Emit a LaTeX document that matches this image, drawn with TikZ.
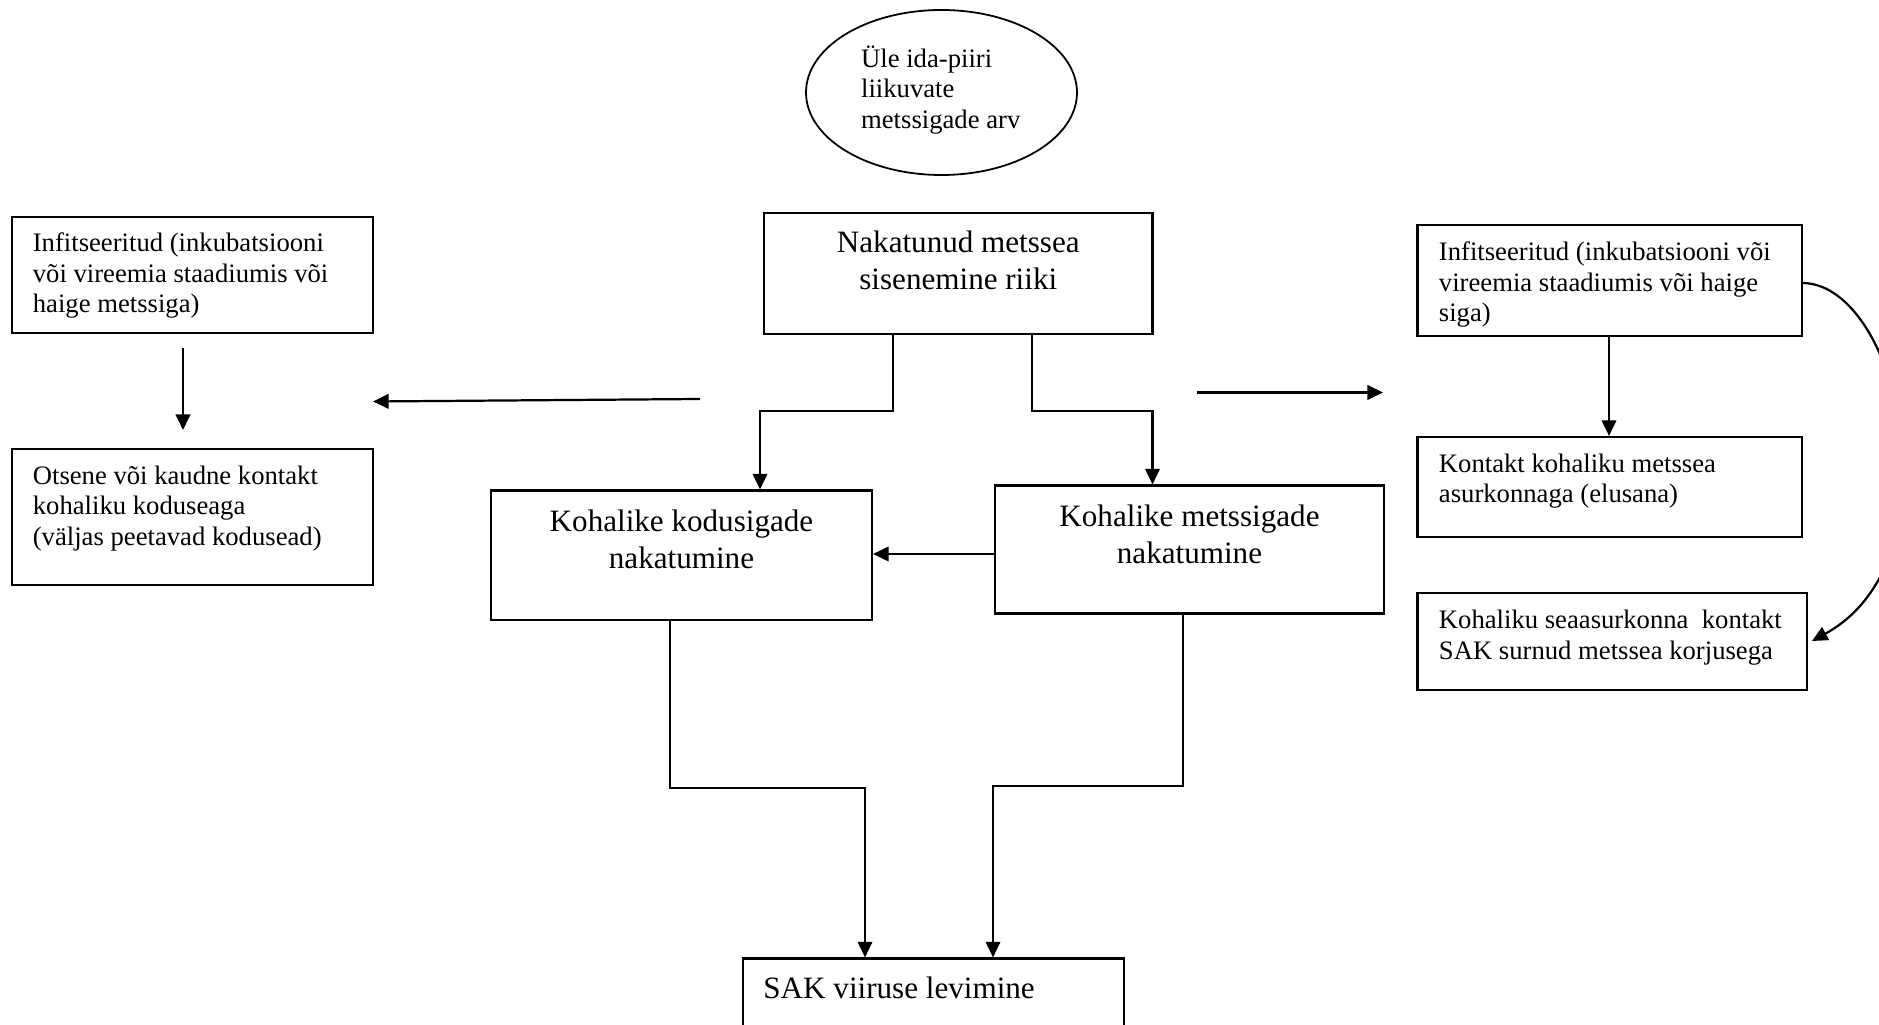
\documentclass[tikz,border=0pt]{standalone}
\usepackage{fontspec}
\setmainfont{Liberation Serif}
\usetikzlibrary{arrows.meta,shapes.geometric,fit}
\newcommand\tsm{\rule{0pt}{11.5pt}}
\newcommand\tbg{\rule{0pt}{13pt}}
\begin{document}
\begin{tikzpicture}[x=0.45pt,y=-0.45pt,
  box/.style={draw,line width=0.95pt,rectangle,inner sep=0pt},
  txt/.style={inner sep=0pt,align=left,anchor=north west,font=\fontsize{12}{13.7}\selectfont},
  bigc/.style={inner sep=0pt,align=center,anchor=north,font=\fontsize{14}{16.6}\selectfont},
  bigl/.style={inner sep=0pt,align=left,anchor=north west,font=\fontsize{14}{16.6}\selectfont},
  arr/.style={line width=1pt,-{Triangle[length=7pt,width=6.5pt]}}]
\fill[white] (0,0) rectangle (1879,1025);
\useasboundingbox (0,0) rectangle (1879,1025);
\begin{scope}
\clip (0,0) rectangle (1879,1025);
% ellipse
\node[draw,ellipse,line width=0.8pt,minimum width=271*0.45pt,minimum height=165*0.45pt,inner sep=0pt] (ell) at (941.5,92.5) {};
\node[txt] (ellt) at (860.7,41.5) {\tsm Üle ida-piiri\\liikuvate\\metssigade arv};
% boxes
\node[box,fit={(12,217) (373,333)}] (lb1) {};
\node[txt] (lb1t) at (32.4,225.9) {\tsm Infitseeritud (inkubatsiooni\\või vireemia staadiumis või\\haige metssiga)};
\node[box,fit={(12,449) (373,585)}] (lb2) {};
\node[txt] (lb2t) at (32.4,458.4) {\tsm Otsene või kaudne kontakt\\kohaliku koduseaga\\(väljas peetavad kodusead)};
\node[box,fit={(764,213) (1152.5,334)}] (cb) {};
\node[bigc] (cbt) at (958.3,223.5) {\tbg Nakatunud metssea\\sisenemine riiki};
\node[box,fit={(491,490.5) (872,620)}] (kod) {};
\node[bigc] (kodt) at (681.5,502.1) {\tbg Kohalike kodusigade\\nakatumine};
\node[box,fit={(995,485.5) (1384,613.5)}] (met) {};
\node[bigc] (mett) at (1189.5,496.8) {\tbg Kohalike metssigade\\nakatumine};
\node[box,fit={(1417.5,225) (1802,336)}] (rb1) {};
\node[txt] (rb1t) at (1438.5,234.9) {\tsm Infitseeritud (inkubatsiooni või\\vireemia staadiumis või haige\\siga)};
\node[box,fit={(1417.5,437) (1802,537)}] (rb2) {};
\node[txt] (rb2t) at (1438.5,446.4) {\tsm Kontakt kohaliku metssea\\asurkonnaga (elusana)};
\node[box,fit={(1417.5,593) (1807,690)}] (rb3) {};
\node[txt] (rb3t) at (1438.5,602.9) {\tsm Kohaliku seaasurkonna\ \ kontakt\\SAK surnud metssea korjusega};
\node[box,fit={(743,958.5) (1124,1060)}] (sak) {};
\node[bigl] (sakt) at (763,969.1) {\tbg SAK viiruse levimine};
% coordinates
\coordinate (b1) at (893,411);
\coordinate (b2) at (760,411);
\coordinate (b3) at (1032,411);
\coordinate (b4) at (1152.5,411);
\coordinate (h1) at (0,554);
\coordinate (b5) at (670,788);
\coordinate (b6) at (865,788);
\coordinate (b7) at (1183,786);
\coordinate (b8) at (993,786);
\coordinate (a1) at (183,348);
\coordinate (a2) at (183,430);
\coordinate (la1) at (700,399);
\coordinate (la2) at (373,401.5);
\coordinate (ra1) at (1197,392.5);
\coordinate (ra2) at (1383,392.5);
\coordinate (d1) at (1609,0);
\coordinate (cv1) at (0,283);
\coordinate (cv2) at (1812,641);
% connectors
\draw[arr] (cb.south -| b1) -- (b1) -- (b2) -- (b2 |- kod.north);
\draw[arr] (cb.south -| b3) -- (b3) -- (b4) -- (b4 |- met.north);
\draw[arr] (met.west |- h1) -- (kod.east |- h1);
\draw[arr] (kod.south -| b5) -- (b5) -- (b6) -- (b6 |- sak.north);
\draw[arr] (met.south -| b7) -- (b7) -- (b8) -- (b8 |- sak.north);
\draw[arr] (a1) -- (a2);
\draw[arr] (la1) -- (la2);
\draw[arr] (ra1) -- (ra2);
\draw[arr] (rb1.south -| d1) -- (rb2.north -| d1);
\draw[arr] (rb1.east |- cv1) .. controls (1900,285) and (1960,560) .. (cv2);
\end{scope}
\end{tikzpicture}
\end{document}
